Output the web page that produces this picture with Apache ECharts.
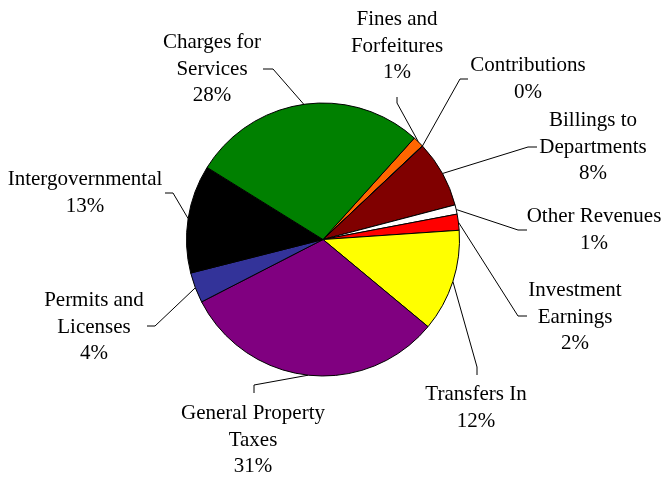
<!DOCTYPE html>
<html>
<head>
<meta charset="utf-8">
<script src="https://cdn.jsdelivr.net/npm/echarts@6/dist/echarts.min.js"></script>
<style>
  html, body { margin: 0; padding: 0; background: #fff; }
  #chart { width: 662px; height: 477px; }
</style>
</head>
<body>
<div id="chart"></div>
<script>
// revenue sources, clockwise from the orange sliver near the top
const categories = [
  'Fines and\nForfeitures',
  'Contributions',
  'Billings to\nDepartments',
  'Other Revenues',
  'Investment\nEarnings',
  'Transfers In',
  'General Property\nTaxes',
  'Permits and\nLicenses',
  'Intergovernmental',
  'Charges for\nServices'
];
const shares = [1.3, 0.05, 7.9, 1.1, 1.9, 12.1, 31.4, 3.6, 12.8, 27.8];
const sliceColors = ['#ff6600', '#00ccff', '#800000', '#ffffff', '#ff0000',
  '#ffff00', '#800080', '#333399', '#000000', '#008000'];

// where each label block sits and where its leader line stops
const labelSpots = [
  { pos: [397, 46],  elbow: [397, 103], end: [397, 97] },
  { pos: [528, 79],  elbow: [460, 79],  end: [468, 79] },
  { pos: [593, 147], elbow: [528, 147], end: [537, 147] },
  { pos: [594, 230], elbow: [518, 230], end: [527, 230] },
  { pos: [575, 317], elbow: [518, 316], end: [527, 316] },
  { pos: [476, 408], elbow: [477, 367], end: [477, 375] },
  { pos: [253, 440], elbow: [254, 385], end: [254, 393] },
  { pos: [94, 327],  elbow: [155, 326], end: [147, 326] },
  { pos: [85, 193],  elbow: [173, 193], end: [165, 193] },
  { pos: [212, 69],  elbow: [273, 69],  end: [263, 69] }
];

const chart = echarts.init(document.getElementById('chart'));

const option = {
  backgroundColor: '#fff',
  animation: false,
  series: [{
    type: 'pie',
    center: [323, 239.5],
    radius: 136.5,
    startAngle: 48,
    clockwise: true,
    avoidLabelOverlap: false,
    emphasis: { disabled: true },
    itemStyle: { borderColor: '#000', borderWidth: 1 },
    label: {
      show: true,
      position: 'outside',
      color: '#000',
      fontFamily: 'Liberation Serif',
      fontSize: 21,
      lineHeight: 26.5,
      align: 'center',
      formatter: p => p.name + '\n' + Math.round(p.percent) + '%'
    },
    labelLine: {
      show: true,
      smooth: false,
      lineStyle: { color: '#000', width: 1 }
    },
    labelLayout: params => {
      const s = labelSpots[params.dataIndex];
      const edge = params.labelLinePoints ? params.labelLinePoints[0] : s.elbow;
      return {
        x: s.pos[0],
        y: s.pos[1],
        align: 'center',
        verticalAlign: 'middle',
        labelLinePoints: [edge, s.elbow, s.end]
      };
    },
    data: categories.map((name, i) => ({
      name: name,
      value: shares[i],
      itemStyle: { color: sliceColors[i] }
    }))
  }]
};

chart.setOption(option);
</script>
</body>
</html>
